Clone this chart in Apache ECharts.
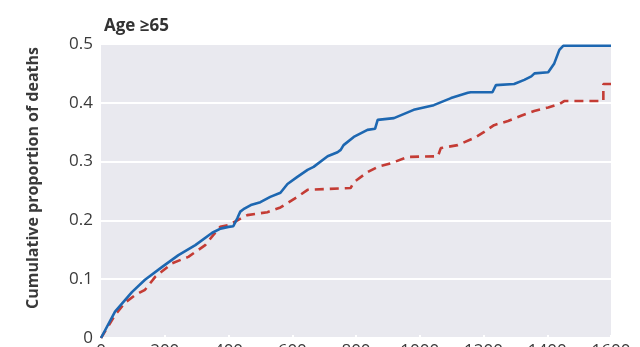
<!DOCTYPE html>
<html>
<head>
<meta charset="utf-8">
<script src="https://cdn.jsdelivr.net/npm/echarts@6/dist/echarts.min.js"></script>
<style>html,body{margin:0;padding:0;background:#fff}#c{width:640px;height:347px}</style>
</head>
<body>
<div id="c"></div>
<script>
var title = 'Age \u226565';
var yTitle = 'Cumulative proportion of deaths';
var xTicks = [0, 200, 400, 600, 800, 1000, 1200, 1400, 1600];
var yTicks = [0, 0.1, 0.2, 0.3, 0.4, 0.5];

var blueDays = [0,44,97,138,192,243,296,349,375,400,415,428,437,447,470,500,531,563,585,616,648,667,711,742,752,761,793,836,860,868,919,981,1044,1098,1151,1160,1228,1239,1296,1328,1350,1360,1403,1422,1438,1450,1600];
var blueProp = [0,0.045,0.078,0.099,0.121,0.141,0.158,0.179,0.186,0.189,0.19,0.204,0.215,0.219,0.226,0.231,0.24,0.247,0.262,0.274,0.286,0.291,0.309,0.316,0.32,0.328,0.342,0.354,0.356,0.371,0.374,0.388,0.396,0.408,0.417,0.418,0.418,0.43,0.432,0.439,0.445,0.45,0.452,0.467,0.49,0.497,0.497];

var redDays = [0,44,75,107,138,170,223,274,327,352,374,400,428,447,459,522,563,616,648,783,793,836,868,909,962,1057,1066,1119,1170,1201,1233,1277,1318,1359,1403,1438,1453,1576,1576,1600];
var redProp = [0,0.039,0.06,0.073,0.082,0.104,0.127,0.138,0.158,0.175,0.189,0.192,0.2,0.206,0.209,0.214,0.222,0.24,0.252,0.255,0.265,0.282,0.291,0.297,0.308,0.309,0.323,0.328,0.34,0.35,0.362,0.369,0.378,0.386,0.392,0.398,0.403,0.403,0.432,0.432];

function pairs(a, b) { return a.map(function (v, i) { return [v, b[i]]; }); }

var chart = echarts.init(document.getElementById('c'));
chart.setOption({
  animation: false,
  backgroundColor: '#ffffff',
  title: {
    text: title, left: 99, top: 13,
    textStyle: { fontFamily: 'Open Sans', fontWeight: 'bold', fontSize: 17, color: '#333' }
  },
  graphic: [{
    type: 'text', x: 33, y: 178, rotation: Math.PI / 2,
    style: { text: yTitle, fontFamily: 'Open Sans', fontWeight: 'bold', fontSize: 16, fill: '#3a3a3a', textAlign: 'center', textVerticalAlign: 'middle' }
  }],
  grid: { left: 101, right: 29, top: 44, bottom: 9, show: true, backgroundColor: '#e9e9ef', borderWidth: 0, containLabel: false, outerBoundsMode: 'none' },
  xAxis: {
    type: 'value', min: xTicks[0], max: xTicks[xTicks.length - 1], interval: 200,
    axisLine: { show: false },
    axisTick: { show: true, inside: true, length: 3, lineStyle: { color: '#ffffff', width: 2 } },
    splitLine: { show: false },
    axisLabel: { fontFamily: 'Open Sans', fontSize: 17, color: '#3a3a3a', margin: 5, formatter: function (v) { return String(v); } }
  },
  yAxis: {
    type: 'value', min: yTicks[0], max: yTicks[yTicks.length - 1], interval: 0.1,
    axisLine: { show: false }, axisTick: { show: false },
    splitLine: { show: true, lineStyle: { color: '#ffffff', width: 2 } },
    axisLabel: {
      fontFamily: 'Open Sans', fontSize: 17, color: '#3a3a3a', margin: 8,
      formatter: function (v) { return v === 0 ? '0' : v.toFixed(1); }
    }
  },
  series: [
    {
      type: 'line', showSymbol: false, data: pairs(redDays, redProp),
      lineStyle: { color: '#c43c35', width: 2.6, type: [9, 6] }, z: 2
    },
    {
      type: 'line', showSymbol: false, data: pairs(blueDays, blueProp),
      lineStyle: { color: '#1d67b1', width: 2.6 }, z: 3
    }
  ]
});
</script>
</body>
</html>
